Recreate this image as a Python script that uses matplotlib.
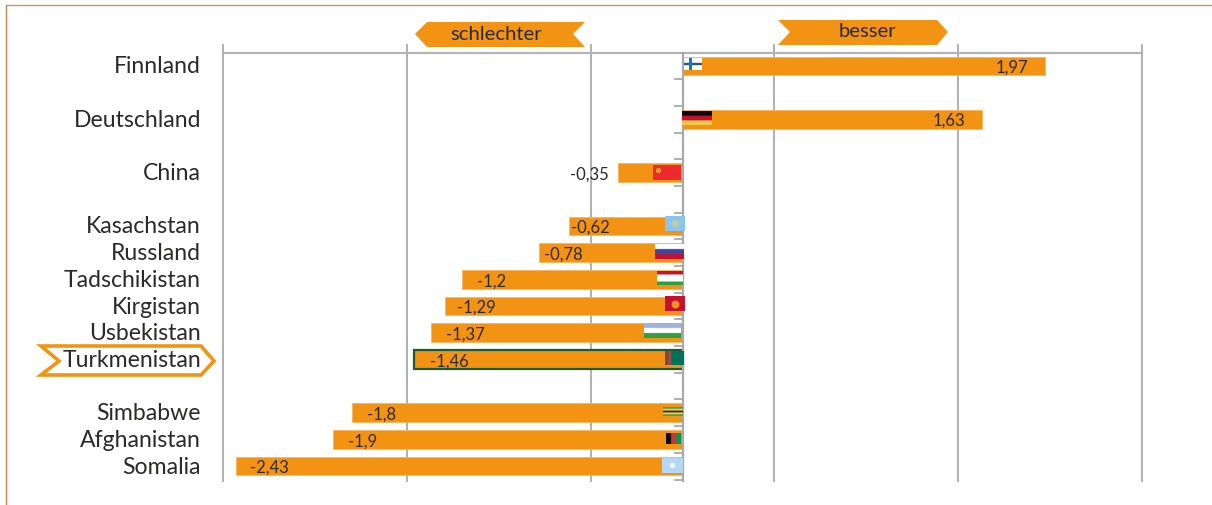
import matplotlib
matplotlib.use("Agg")
import matplotlib.pyplot as plt
import numpy as np
from matplotlib.patches import Polygon

plt.rcParams['font.family'] = ['Lato', 'DejaVu Sans']

countries = ["Finnland", "Deutschland", "China", "Kasachstan", "Russland", "Tadschikistan",
             "Kirgistan", "Usbekistan", "Turkmenistan", "Simbabwe", "Afghanistan", "Somalia"]
values = [1.97, 1.63, -0.35, -0.62, -0.78, -1.2, -1.29, -1.37, -1.46, -1.8, -1.9, -2.43]
rows = [0, 2, 4, 6, 7, 8, 9, 10, 11, 13, 14, 15]
label_shift = [-0.18, -0.18, None, 0.12, 0.13, 0.16, 0.17, 0.19, 0.19, 0.16, 0.16, 0.18]
grid_ticks = [-2.5, -1.5, -0.5, 0.5, 1.5, 2.5]

ORANGE = "#f39313"
GREY = "#a9a9aa"
INK = "#2b2a29"
W, H = 1212, 506


def fmt(v):
    return str(v).replace(".", ",")


def flag(ax, box, colors, vertical=False):
    # stripes are painted as a tiny image so the edges stay soft
    rgb = [matplotlib.colors.to_rgb(c) for c in colors for _ in range(4)]
    img = np.array(rgb)[:, np.newaxis, :]
    if vertical:
        img = img.transpose(1, 0, 2)
    ax.imshow(img, extent=(box[0], box[1], box[3], box[2]), aspect="auto",
              interpolation="bilinear", zorder=6)


fig = plt.figure(figsize=(W / 100, H / 100), dpi=100)

ax = fig.add_axes([223 / W, 1 - 480.5 / H, (1142 - 223) / W, (480.5 - 53.5) / H])
ax.set_xlim(-2.5, 2.5)
ax.set_ylim(16, 0)
ax.axis("off")

for t in grid_ticks:
    ax.plot([t, t], [-0.27, 16.05], color=GREY, lw=1.3, clip_on=False, zorder=1)
ax.plot([-2.5, 2.5], [0, 0], color="#b4b4b5", lw=1.6, clip_on=False, zorder=1)

for name, v, r, shift in zip(countries, values, rows, label_shift):
    y = r + 0.5
    if name == "Turkmenistan":
        ax.barh(y, v, height=0.72, color=ORANGE, edgecolor="#1d5b2c", lw=1.6, zorder=2)
    else:
        ax.barh(y, v, height=0.7, color=ORANGE, edgecolor="#f8b45c", lw=0.6, zorder=2)
    if shift is None:
        ax.text(v - 0.05, y + 0.03, fmt(v), ha="right", va="center", fontsize=12, color=INK, zorder=7)
    else:
        ax.text(v + shift, y + 0.03, fmt(v), ha="center", va="center", fontsize=12, color=INK, zorder=7)
    ax.text(-2.5 - 22 / 183.8, y + 0.0, name, ha="right", va="center", fontsize=16.6, color=INK, zorder=7)

ax.plot([0, 0], [0, 16.05], color=GREY, lw=1.6, clip_on=False, zorder=3)
for k in range(1, 17):
    ax.plot([-0.04, 0], [k, k], color=GREY, lw=1.3, clip_on=False, zorder=3)

# overlay in pixel units for the frame, arrows and flags
top = fig.add_axes([0, 0, 1, 1])
top.patch.set_alpha(0)
top.axis("off")

top.plot([6, W], [6, 6], color="#c9946c", lw=1.0)
top.plot([6, 6], [6, H], color="#c98a4f", lw=1.0)

top.add_patch(Polygon([(415, 35), (427, 23), (585, 23), (573, 35), (585, 48), (427, 48)], color=ORANGE, lw=0))
top.add_patch(Polygon([(778, 21), (937, 21), (948, 33), (937, 46), (778, 46), (790, 33)], color=ORANGE, lw=0))
top.text(496, 34, "schlechter", ha="center", va="center", fontsize=14.6, color=INK)
top.text(867, 31, "besser", ha="center", va="center", fontsize=14.6, color=INK)

top.add_patch(Polygon([(41, 347), (201, 347), (214, 362), (201, 376), (41, 376), (59, 362)],
                      facecolor="none", edgecolor=ORANGE, lw=2.6, joinstyle="miter", zorder=2))

flag(top, (684, 702, 59, 71), ["#ffffff", "#ffffff", "#1d5f7f", "#ffffff", "#ffffff"])
top.fill_between([689, 692], 59, 71, color="#1f74b8", lw=0, zorder=7)
flag(top, (682, 712, 112, 126), ["#0a0a0a", "#c8102e", "#f2c94c"])
flag(top, (653, 681, 166, 181), ["#ee2a2e"])
top.scatter([658], [171], s=14, color="#f5a623", lw=0, zorder=7)
flag(top, (665, 685, 217, 232), ["#8cc4ec"])
top.scatter([675], [224], s=30, color="#c3cf9b", lw=0, alpha=0.8, zorder=7)
flag(top, (655, 684, 245, 260), ["#ffffff", "#3d4a9c", "#c4122f"])
flag(top, (657, 683, 272, 286), ["#c4122f", "#ffffff", "#ffffff", "#2f9e44"])
flag(top, (665, 685, 297, 312), ["#c8102e"])
top.scatter([675], [304.5], s=32, color="#f0932b", lw=0, zorder=7)
flag(top, (644, 681, 324, 339), ["#9fb4dc", "#ffffff", "#2f9e44"])
flag(top, (665, 684, 352, 366), ["#7a4a45", "#9c4a4a", "#00735a", "#00735a", "#00735a", "#00735a"], vertical=True)
flag(top, (663, 683, 408, 417), ["#3aa655", "#f2d24b", "#5a1414", "#f2d24b", "#3aa655"])
flag(top, (666, 681, 434, 445), ["#0a0a0a", "#d0323c", "#0f9150"], vertical=True)
flag(top, (662, 683, 459, 474), ["#b5d8f2"])
top.scatter([672], [466], s=16, color="#e8f5fd", lw=0, zorder=7)

top.set_xlim(0, W)
top.set_ylim(H, 0)

fig.savefig("out.png", dpi=100)
